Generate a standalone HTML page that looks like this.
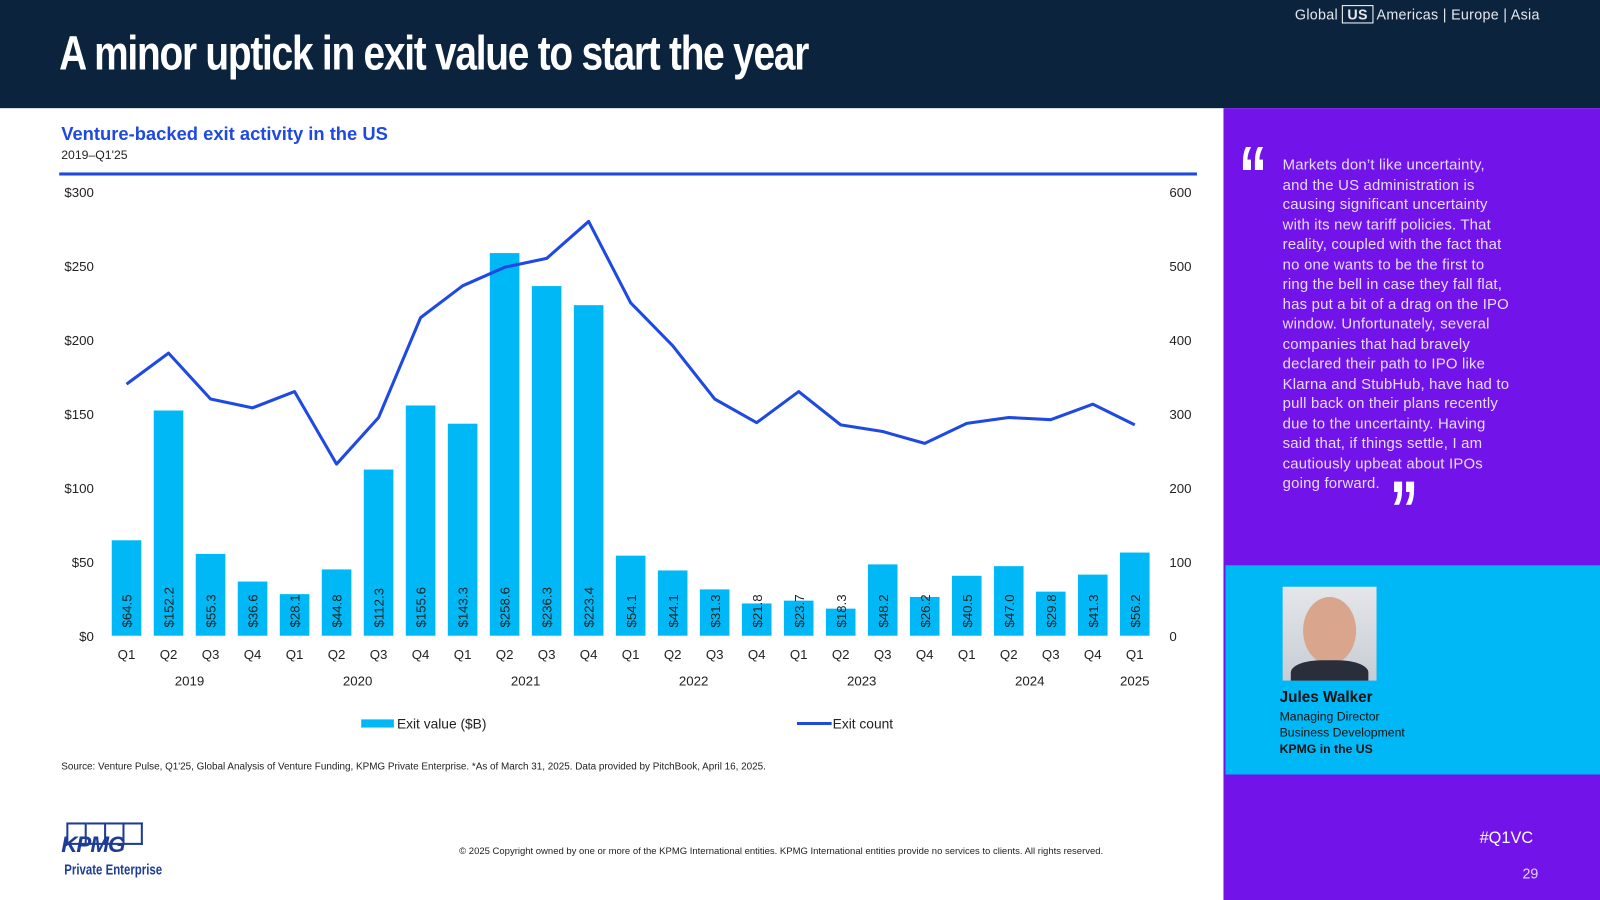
<!DOCTYPE html>
<html><head><meta charset="utf-8"><style>
html,body{margin:0;padding:0;width:1600px;height:900px;overflow:hidden;background:#fff;}
#wrap{position:absolute;left:0;top:0;width:1568px;height:882px;transform:scale(1.020408);transform-origin:0 0;font-family:"Liberation Sans",sans-serif;}
.abs{position:absolute;}
</style></head><body>
<div id="wrap">
 <div class="abs" style="left:0;top:0;width:1568px;height:106px;background:#0c233d;"></div>
 <div class="abs" style="left:58px;top:24px;color:#fff;font-weight:bold;font-size:47px;letter-spacing:-1.5px;white-space:nowrap;transform:scaleX(0.81);transform-origin:0 0;">A minor uptick in exit value to start the year</div>
 <div class="abs" style="left:1269px;top:6px;color:#e6e8ee;font-size:14px;white-space:nowrap;letter-spacing:0.3px;">
  <span>Global</span>
  <span style="border:1px solid #fff;padding:0 4px;font-weight:bold;">US</span>
  <span>Americas</span> | <span>Europe</span> | <span>Asia</span>
 </div>
 <div class="abs" style="left:60px;top:121px;color:#1e49e2;font-weight:bold;font-size:18px;">Venture-backed exit activity in the US</div>
 <div class="abs" style="left:60px;top:145px;color:#222;font-size:12px;">2019–Q1'25</div>
 <div class="abs" style="left:58px;top:169px;width:1115px;height:3px;background:#1e49e2;"></div>
 <svg class="abs" id="chart" style="left:0;top:0;" width="1200" height="740"></svg>
 <div class="abs" style="left:60px;top:746px;font-size:9.7px;color:#222;white-space:nowrap;">Source: Venture Pulse, Q1'25, Global Analysis of Venture Funding, KPMG Private Enterprise. *As of March 31, 2025. Data provided by PitchBook, April 16, 2025.</div>
 <div class="abs" style="left:60px;top:806px;width:80px;">
  <div style="display:flex;gap:0;margin-left:5px;">
   <div style="width:17px;height:18px;border:2px solid #1e3c96;"></div><div style="width:17px;height:18px;border:2px solid #1e3c96;border-left:0;"></div><div style="width:17px;height:18px;border:2px solid #1e3c96;border-left:0;"></div><div style="width:17px;height:18px;border:2px solid #1e3c96;border-left:0;"></div>
  </div>
  <div style="position:absolute;top:9px;left:0;color:#1e3c96;font-weight:bold;font-style:italic;font-size:22px;letter-spacing:-1px;">KPMG</div>
  <div style="position:absolute;top:38px;left:3px;color:#1e3c96;font-weight:bold;font-size:14px;white-space:nowrap;transform:scaleX(0.8);transform-origin:0 0;">Private Enterprise</div>
 </div>
 <div class="abs" style="left:450px;top:829px;font-size:9.3px;color:#222;white-space:nowrap;">© 2025 Copyright owned by one or more of the KPMG International entities. KPMG International entities provide no services to clients. All rights reserved.</div>

 <div class="abs" style="left:1199px;top:106px;width:369px;height:776px;background:#7213ea;"></div>
 <div class="abs" style="left:1214px;top:132px;color:#fff;font-weight:bold;font-size:80px;line-height:80px;transform:scaleX(0.7);transform-origin:0 0;">“</div>
 <div class="abs" style="left:1257px;top:153px;width:226px;color:#e6dcff;font-size:14.6px;line-height:19.5px;letter-spacing:0.2px;">Markets don’t like uncertainty, and the US administration is causing significant uncertainty with its new tariff policies. That reality, coupled with the fact that no one wants to be the first to ring the bell in case they fall flat, has put a bit of a drag on the IPO window. Unfortunately, several companies that had bravely declared their path to IPO like Klarna and StubHub, have had to pull back on their plans recently due to the uncertainty. Having said that, if things settle, I am cautiously upbeat about IPOs going forward.</div>
 <div class="abs" style="left:1362px;top:460px;color:#fff;font-weight:bold;font-size:80px;line-height:80px;transform:scaleX(0.7);transform-origin:0 0;">”</div>
 <div class="abs" style="left:1201px;top:554px;width:367px;height:205px;background:#00b8f5;"></div>
 <div class="abs" style="left:1257px;top:575px;width:92px;height:92px;background:linear-gradient(#e4e6ea,#c8ccd4);overflow:hidden;">
  <div style="position:absolute;left:20px;top:10px;width:52px;height:66px;border-radius:50%;background:#d9a58c;"></div>
  <div style="position:absolute;left:8px;top:72px;width:76px;height:30px;border-radius:40% 40% 0 0;background:#2a2d3a;"></div>
 </div>
 <div class="abs" style="left:1254px;top:675px;font-weight:bold;font-size:15px;color:#111;">Jules Walker</div>
 <div class="abs" style="left:1254px;top:694px;font-size:12px;line-height:16px;color:#111;">Managing Director<br>Business Development<br><b>KPMG in the US</b></div>
 <div class="abs" style="left:1450px;top:813px;font-size:16px;color:#fff;">#Q1VC</div>
 <div class="abs" style="left:1492px;top:848px;font-size:14px;color:#e0d4ff;">29</div>
</div>
<script>
const quarters=["Q1","Q2","Q3","Q4","Q1","Q2","Q3","Q4","Q1","Q2","Q3","Q4","Q1","Q2","Q3","Q4","Q1","Q2","Q3","Q4","Q1","Q2","Q3","Q4","Q1"];
const years=["2019","2020","2021","2022","2023","2024","2025"];
const exitValue=[64.5,152.2,55.3,36.6,28.1,44.8,112.3,155.6,143.3,258.6,236.3,223.4,54.1,44.1,31.3,21.8,23.7,18.3,48.2,26.2,40.5,47.0,29.8,41.3,56.2];
const exitCount=[340,382,320,308,330,232,295,430,473,498,510,560,450,392,320,288,330,285,276,260,287,295,292,313,285];
const leftTicks=[0,50,100,150,200,250,300];
const rightTicks=[0,100,200,300,400,500,600];
const NS="http://www.w3.org/2000/svg";
const svg=document.getElementById('chart');
const y0=623,yTop=188,x0=124,step=41.17,bw=29;
const yL=v=>y0-(v/300)*(y0-yTop);
const yR=v=>y0-(v/600)*(y0-yTop);
const xc=i=>x0+i*step;
function mk(tag,attrs,txt){const e=document.createElementNS(NS,tag);for(const k in attrs)e.setAttribute(k,attrs[k]);if(txt!=null)e.textContent=txt;svg.appendChild(e);return e;}
leftTicks.forEach(t=>{const e=mk('text',{x:92,y:yL(t)+5,'text-anchor':'end','font-size':13,fill:'#222','font-family':'Liberation Sans'},'$'+t);

});
rightTicks.forEach(t=>{const e=mk('text',{x:1146,y:yR(t)+5,'font-size':13,fill:'#222','font-family':'Liberation Sans'},String(t));

});
exitValue.forEach((v,i)=>{
 const b=mk('rect',{x:xc(i)-bw/2,y:yL(v),width:bw,height:y0-yL(v),fill:'#00b8f5'});
 
 
 const l=mk('text',{transform:`translate(${xc(i)+5},${y0-8}) rotate(-90)`,'font-size':13,fill:'#222','font-family':'Liberation Sans'},'$'+v.toFixed(1));
 
 
 const q=mk('text',{x:xc(i),y:646,'text-anchor':'middle','font-size':13,fill:'#222','font-family':'Liberation Sans'},quarters[i]);
 
 
});
years.forEach((yr,k)=>{const n=k<6?4:1;const c=(xc(k*4)+xc(k*4+n-1))/2;
 const e=mk('text',{x:c,y:672,'text-anchor':'middle','font-size':13,fill:'#222','font-family':'Liberation Sans'},yr);
 
 });
const pl=mk('polyline',{points:exitCount.map((v,i)=>xc(i)+','+yR(v)).join(' '),fill:'none',stroke:'#1e49e2','stroke-width':3,'stroke-linejoin':'round'});


const s1=mk('rect',{x:354,y:705,width:32,height:8,fill:'#00b8f5'});


const t1=mk('text',{x:389,y:714,'font-size':13.5,fill:'#222','font-family':'Liberation Sans'},'Exit value ($B)');


const s2=mk('line',{x1:781,x2:815,y1:709,y2:709,stroke:'#1e49e2','stroke-width':3});


const t2=mk('text',{x:816,y:714,'font-size':13.5,fill:'#222','font-family':'Liberation Sans'},'Exit count');


</script>
</body></html>
